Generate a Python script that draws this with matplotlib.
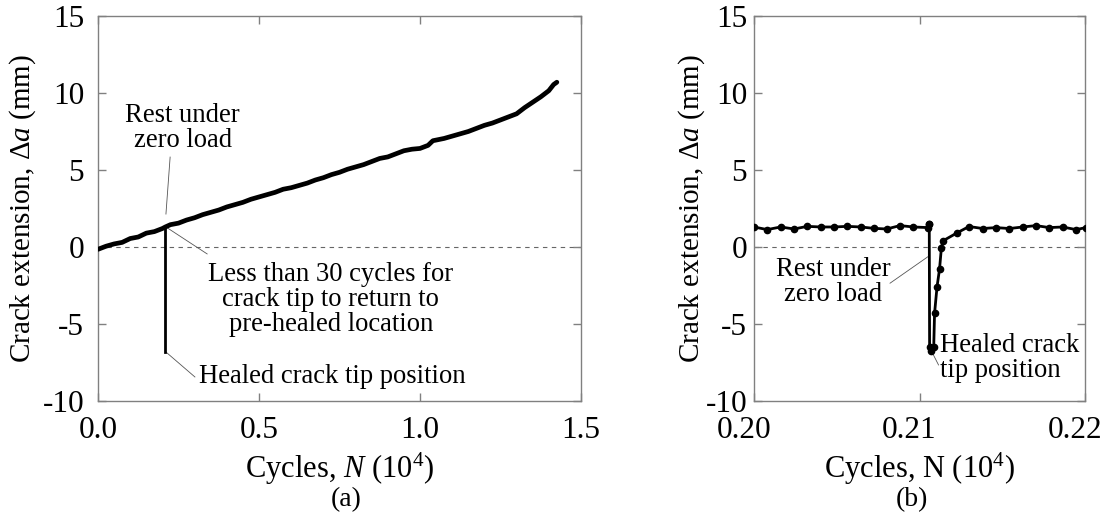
import matplotlib
matplotlib.use("Agg")
import matplotlib.pyplot as plt
import matplotlib.transforms as mtransforms

plt.rcParams['font.family'] = ['Liberation Serif', 'DejaVu Serif']
plt.rcParams['mathtext.fontset'] = 'custom'
plt.rcParams['mathtext.rm'] = 'Liberation Serif'
plt.rcParams['mathtext.it'] = 'Liberation Serif:italic'

# ---- Panel (a) data: cycles (10^4) vs crack extension (mm)
cycles_a = [0.000, 0.025, 0.050, 0.075, 0.100, 0.125, 0.150, 0.175, 0.200, 0.209,
            0.225, 0.250, 0.275, 0.300, 0.325, 0.350, 0.375, 0.400, 0.425, 0.450,
            0.475, 0.500, 0.525, 0.550, 0.575, 0.600, 0.625, 0.650, 0.675, 0.700,
            0.725, 0.750, 0.775, 0.800, 0.825, 0.850, 0.875, 0.900, 0.925, 0.950,
            0.975, 1.000, 1.025, 1.040, 1.075, 1.100, 1.125, 1.150, 1.175, 1.200,
            1.225, 1.250, 1.275, 1.300, 1.325, 1.350, 1.375, 1.400, 1.415, 1.425]
ext_a = [-0.15, 0.05, 0.20, 0.30, 0.55, 0.65, 0.90, 1.00, 1.20, 1.30,
         1.45, 1.55, 1.75, 1.90, 2.10, 2.25, 2.40, 2.60, 2.75, 2.90,
         3.10, 3.25, 3.40, 3.55, 3.75, 3.85, 4.00, 4.15, 4.35, 4.50,
         4.70, 4.85, 5.05, 5.20, 5.35, 5.55, 5.75, 5.85, 6.05, 6.25,
         6.35, 6.40, 6.60, 6.90, 7.05, 7.20, 7.35, 7.50, 7.70, 7.90,
         8.05, 8.25, 8.45, 8.65, 9.05, 9.40, 9.75, 10.15, 10.55, 10.70]
healed_a_x = [0.209, 0.209]
healed_a_y = [1.30, -6.80]

# ---- Panel (b) data: zoom around the healing event
cycles_b = [0.20000, 0.20080, 0.20161, 0.20242, 0.20322, 0.20403, 0.20483, 0.20564,
            0.20645, 0.20725, 0.20802, 0.20882, 0.20963, 0.21053, 0.21056, 0.21059,
            0.21061, 0.21070, 0.21086, 0.21091, 0.21106, 0.21121, 0.21132, 0.21142,
            0.21224, 0.21299, 0.21382, 0.21462, 0.21543, 0.21624, 0.21704, 0.21784,
            0.21865, 0.21946, 0.22006]
ext_b = [1.30, 1.13, 1.30, 1.17, 1.34, 1.30, 1.30, 1.34,
         1.30, 1.21, 1.17, 1.39, 1.30, 1.26, 1.50, 1.50,
         -6.50, -6.73, -6.47, -4.30, -2.58, -1.44, -0.08, 0.40,
         0.90, 1.33, 1.20, 1.26, 1.20, 1.30, 1.39, 1.26,
         1.30, 1.13, 1.26]

yticks = [-10, -5, 0, 5, 10, 15]
xticks_a = [0.0, 0.5, 1.0, 1.5]
xticklabels_a = ['0.0', '0.5', '1.0', '1.5']
xticks_b = [0.20, 0.21, 0.22]
xticklabels_b = ['0.20', '0.21', '0.22']

W, H = 1107, 516
fig = plt.figure(figsize=(W / 100, H / 100), dpi=100)
axA = fig.add_axes([98 / W, (H - 401) / H, (581 - 98) / W, 385 / H])
axB = fig.add_axes([754 / W, (H - 401) / H, (1085 - 754) / W, 385 / H])

spine_col = '#808080'
tick_fs = 22.5
lab_fs = 21
xlab_fs = 22
ann_fs = 19.2

for ax in (axA, axB):
    for s in ax.spines.values():
        s.set_color(spine_col)
        s.set_linewidth(1.0)
    ax.tick_params(direction='in', top=True, right=True, length=6, width=1.0,
                   color=spine_col, labelsize=tick_fs)
    ax.tick_params(axis='x', pad=11)
    ax.set_ylim(-10, 15)
    ax.set_yticks(yticks)
    ax.set_yticklabels([str(t) for t in yticks])
    ax.axhline(0, color='#666666', lw=0.8, ls=(0, (4, 4)), zorder=1)
    ax.set_ylabel('Crack extension, \u0394$a$ (mm)', fontsize=lab_fs)

axA.tick_params(axis='y', pad=10)
axB.tick_params(axis='y', pad=5)
axA.yaxis.set_label_coords(-0.124, 0.5)
axB.yaxis.set_label_coords(-0.142, 0.5)

# Panel (a)
axA.set_xlim(0, 1.5)
axA.set_xticks(xticks_a)
axA.set_xticklabels(xticklabels_a)
axA.plot(cycles_a, ext_a, color='black', lw=3.4, solid_capstyle='round', zorder=3)
axA.plot(healed_a_x, healed_a_y, color='black', lw=2.0, zorder=3)
axA.set_xlabel('Cycles, $N$ (10$^4$)', fontsize=xlab_fs, labelpad=4)

axA.text(0.263, 7.7, 'Rest under\nzero load', ha='center', va='center',
         fontsize=ann_fs, linespacing=1.0)
axA.plot([0.224, 0.211], [5.84, 2.14], color='#555555', lw=0.6)
axA.text(0.723, -3.4, 'Less than 30 cycles for\ncrack tip to return to\npre-healed location',
         ha='center', va='center', fontsize=ann_fs, linespacing=1.0)
axA.plot([0.211, 0.339], [1.3, -0.45], color='#555555', lw=0.6)
axA.text(0.313, -8.44, 'Healed crack tip position', ha='left', va='center',
         fontsize=ann_fs)
axA.plot([0.211, 0.301], [-6.82, -8.44], color='#555555', lw=0.6)

# Panel (b)
axB.set_xlim(0.20, 0.22)
axB.set_xticks(xticks_b)
axB.set_xticklabels(xticklabels_b)
shift = mtransforms.ScaledTranslation(-10 / 100, 0, fig.dpi_scale_trans)
for lab in axB.get_xticklabels():
    lab.set_transform(lab.get_transform() + shift)
axB.plot(cycles_b, ext_b, color='black', lw=2.0, marker='o', ms=4.5, zorder=3)
axB.set_xlabel('Cycles, N (10$^4$)', fontsize=xlab_fs, labelpad=4)

axB.text(0.2048, -2.3, 'Rest under\nzero load', ha='center', va='center',
         fontsize=ann_fs, linespacing=1.0)
axB.plot([0.20822, 0.21051], [-2.35, -0.63], color='#555555', lw=0.6)
axB.text(0.21124, -7.2, 'Healed crack\ntip position', ha='left', va='center',
         fontsize=ann_fs, linespacing=1.0)
axB.plot([0.21115, 0.21079], [-7.66, -6.9], color='#555555', lw=0.6)

fig.text(346 / W, 1 - 500 / H, '(a)', ha='center', va='center', fontsize=20)
fig.text(912 / W, 1 - 500 / H, '(b)', ha='center', va='center', fontsize=20)

fig.savefig('out.png', dpi=100)
